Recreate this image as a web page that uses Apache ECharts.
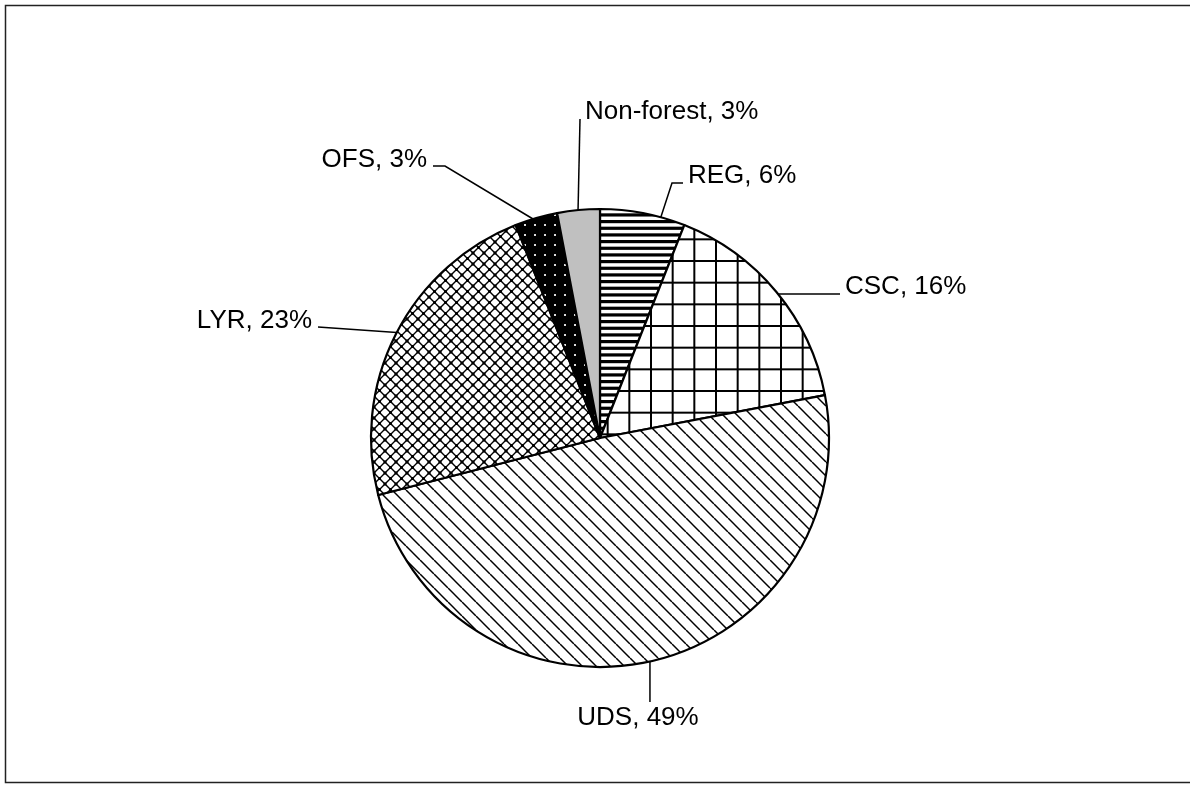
<!DOCTYPE html>
<html>
<head>
<meta charset="utf-8">
<script src="https://cdn.jsdelivr.net/npm/echarts@6/dist/echarts.min.js"></script>
<style>
  html, body { margin: 0; padding: 0; background: #fff; }
  #main { width: 1190px; height: 785px; }
</style>
</head>
<body>
<div id="main"></div>
<script>
// slices, clockwise from 12 o'clock
var categories = ['REG', 'CSC', 'UDS', 'LYR', 'OFS', 'Non-forest'];
var shares = [6, 16, 49, 23, 3, 3];

var cx = 600, cy = 438, R = 229;

// where each label sits, and the angle (clockwise from top) where its leader meets the rim
var labelSpots = {
  'REG':        { x: 688, y: 176, side: 'left',  arc: 15.4,  elbow: 11 },
  'CSC':        { x: 845, y: 287, side: 'left',  arc: 51,    elbow: 0 },
  'UDS':        { x: 638, y: 718, side: 'top',   arc: 167.4, elbow: 0 },
  'LYR':        { x: 312, y: 321, side: 'right', arc: 297.4, elbow: 0 },
  'OFS':        { x: 427, y: 160, side: 'right', arc: 343,   elbow: 12 },
  'Non-forest': { x: 585, y: 112, side: 'left',  arc: 354.5, elbow: 0 }
};

// hatch fills
function tile(w, h, bg, draw) {
  var c = document.createElement('canvas');
  c.width = w; c.height = h;
  var ctx = c.getContext('2d');
  ctx.fillStyle = bg;
  ctx.fillRect(0, 0, w, h);
  draw(ctx, w, h);
  return { image: c, repeat: 'repeat' };
}

var fills = {
  'REG': tile(4, 20, '#fff', function (ctx, w, h) {
    ctx.fillStyle = '#000';
    for (var k = 0; k < 3; k++) ctx.fillRect(0, k * h / 3, w, 3.2);
  }),
  'CSC': tile(65, 65, '#fff', function (ctx, w, h) {
    ctx.fillStyle = '#000';
    for (var k = 0; k < 3; k++) {
      var p = k * w / 3;
      ctx.fillRect(p, 0, 2, h);
      ctx.fillRect(0, p, w, 2);
    }
  }),
  'UDS': tile(14, 14, '#fff', function (ctx, w, h) {
    ctx.strokeStyle = '#000';
    ctx.lineWidth = 1.5;
    for (var k = -1; k <= 1; k++) {
      ctx.beginPath();
      ctx.moveTo(k * w, 0);
      ctx.lineTo(k * w + w, h);
      ctx.stroke();
    }
  }),
  'LYR': tile(11, 11, '#fff', function (ctx, w, h) {
    ctx.strokeStyle = '#000';
    ctx.lineWidth = 1.4;
    ctx.beginPath();
    ctx.moveTo(0, 0); ctx.lineTo(w, h);
    ctx.moveTo(w, 0); ctx.lineTo(0, h);
    ctx.stroke();
    ctx.fillStyle = '#000';
    ctx.fillRect(w / 2 - 1.5, h / 2 - 1.5, 3, 3);
    ctx.fillRect(0, 0, 1.5, 1.5); ctx.fillRect(w - 1.5, 0, 1.5, 1.5);
    ctx.fillRect(0, h - 1.5, 1.5, 1.5); ctx.fillRect(w - 1.5, h - 1.5, 1.5, 1.5);
  }),
  'OFS': tile(10, 10, '#000', function (ctx) {
    ctx.fillStyle = '#ddd';
    ctx.fillRect(4, 4, 2, 2);
  }),
  'Non-forest': '#c0c0c0'
};

var chart = echarts.init(document.getElementById('main'));

chart.setOption({
  animation: false,
  backgroundColor: '#fff',
  graphic: [{
    type: 'rect',
    z: -1,
    shape: { x: 5.5, y: 5.5, width: 1210, height: 777 },
    style: { fill: 'none', stroke: '#222', lineWidth: 1.5 }
  }],
  series: [{
    type: 'pie',
    center: [cx, cy],
    radius: R,
    startAngle: 90,
    clockwise: true,
    avoidLabelOverlap: false,
    minShowLabelAngle: 0,
    itemStyle: { borderColor: '#000', borderWidth: 2.2 },
    label: {
      show: true,
      position: 'outside',
      formatter: '{b}, {c}%',
      color: '#000',
      fontFamily: 'Liberation Sans, Arial, sans-serif',
      fontSize: 26
    },
    labelLine: {
      show: true,
      smooth: false,
      lineStyle: { color: '#000', width: 1.5 }
    },
    labelLayout: function (p) {
      var s = labelSpots[categories[p.dataIndex]];
      var h = p.labelRect.height;
      var a = s.arc * Math.PI / 180;
      var start = [cx + R * Math.sin(a), cy - R * Math.cos(a)];
      var end, mid, align;
      if (s.side === 'left') {
        end = [s.x - 5, s.y + 7];
        mid = [end[0] - s.elbow, end[1]];
        align = 'left';
      } else if (s.side === 'right') {
        end = [s.x + 6, s.y + 6];
        mid = [end[0] + s.elbow, end[1]];
        align = 'right';
      } else {
        end = [start[0], s.y - h / 2 - 3];
        mid = end;
        align = 'center';
      }
      return {
        x: s.x, y: s.y, align: align, verticalAlign: 'middle',
        labelLinePoints: [start, mid, end]
      };
    },
    emphasis: { disabled: true },
    data: categories.map(function (name, i) {
      return { name: name, value: shares[i], itemStyle: { color: fills[name] } };
    })
  }]
});
</script>
</body>
</html>
